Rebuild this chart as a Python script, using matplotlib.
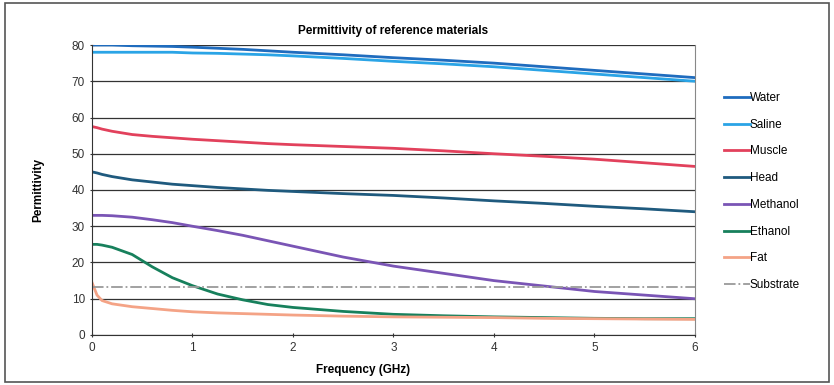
import matplotlib
matplotlib.use("Agg")
import matplotlib.pyplot as plt
from matplotlib.patches import Rectangle

plt.rcParams['font.family'] = ['Liberation Sans', 'DejaVu Sans']

# frequency points (GHz)
freq = [0, 0.05, 0.1, 0.2, 0.4, 0.6, 0.8, 1.0, 1.25, 1.5, 1.75, 2.0, 2.5, 3.0, 3.5, 4.0, 4.5, 5.0, 5.5, 6.0]

water = [80, 80, 80, 80, 79.8, 79.7, 79.6, 79.4, 79.1, 78.8, 78.4, 78, 77.3, 76.5, 75.8, 75, 74, 73, 72, 71]
saline = [78, 78, 78, 78, 78, 78, 78, 77.8, 77.7, 77.5, 77.3, 77, 76.3, 75.5, 74.8, 74, 73, 72, 71, 70]
muscle = [57.5, 57.2, 56.8, 56.2, 55.3, 54.8, 54.4, 54, 53.6, 53.2, 52.8, 52.5, 52, 51.5, 50.8, 50, 49.3, 48.5, 47.5, 46.5]
head = [45, 44.7, 44.3, 43.7, 42.8, 42.2, 41.6, 41.2, 40.7, 40.3, 39.9, 39.6, 39, 38.5, 37.8, 37, 36.3, 35.5, 34.8, 34]
methanol = [33, 33, 33, 32.9, 32.5, 31.8, 31, 30, 28.8, 27.5, 26, 24.5, 21.5, 19, 17, 15, 13.5, 12, 11, 10]
ethanol = [25, 25, 24.8, 24.2, 22.2, 18.8, 15.8, 13.6, 11.3, 9.7, 8.4, 7.6, 6.5, 5.7, 5.3, 5, 4.8, 4.6, 4.5, 4.5]
fat = [14.5, 11, 9.5, 8.6, 7.8, 7.3, 6.8, 6.4, 6.1, 5.9, 5.7, 5.5, 5.2, 5.0, 4.9, 4.8, 4.6, 4.5, 4.4, 4.3]
substrate = [13.3] * len(freq)

names = ['Water', 'Saline', 'Muscle', 'Head', 'Methanol', 'Ethanol', 'Fat', 'Substrate']
series = [water, saline, muscle, head, methanol, ethanol, fat, substrate]
colors = ['#1f6cbe', '#2aa4e6', '#e2415c', '#1f5a7e', '#7a55b5', '#17805c', '#f4a386', '#9a9a9a']

fig = plt.figure(figsize=(8.34, 3.85), dpi=100)
fig.patches.append(Rectangle((0.006, 0.008), 0.988, 0.984, transform=fig.transFigure,
                             fill=False, edgecolor='#555555', linewidth=1.2))
ax = fig.add_axes([0.1103, 0.1299, 0.7230, 0.7532])

for name, y, c in zip(names, series, colors):
    if name == 'Substrate':
        ax.plot(freq, y, color=c, lw=1.3, ls='-.', label=name)
    else:
        ax.plot(freq, y, color=c, lw=2.0, label=name)

ax.set_xlim(0, 6)
ax.set_ylim(0, 80)
ax.set_yticks(range(0, 81, 10))
ax.set_xticks(range(0, 7))
ax.yaxis.grid(True, color='#333333', lw=0.9)
ax.set_axisbelow(True)
ax.spines['top'].set_visible(False)
ax.spines['right'].set_color('#888888')
ax.spines['left'].set_color('#333333')
ax.spines['bottom'].set_color('#333333')
ax.tick_params(axis='both', labelsize=8.5, colors='#333333', length=3, direction='inout')

ax.set_title('Permittivity of reference materials', fontsize=8.5, fontweight='bold', pad=8)
ax.set_ylabel('Permittivity', fontsize=8.5, fontweight='bold', labelpad=20)
ax.set_xlabel('Frequency (GHz)', fontsize=8.5, fontweight='bold', labelpad=4)
ax.xaxis.set_label_coords(0.45, -0.1)

ax.legend(loc='upper left', bbox_to_anchor=(1.03, 0.875), frameon=False, fontsize=8.5,
          handlelength=2.2, handletextpad=0.0, labelspacing=1.25)

fig.savefig('out.png', dpi=100)
